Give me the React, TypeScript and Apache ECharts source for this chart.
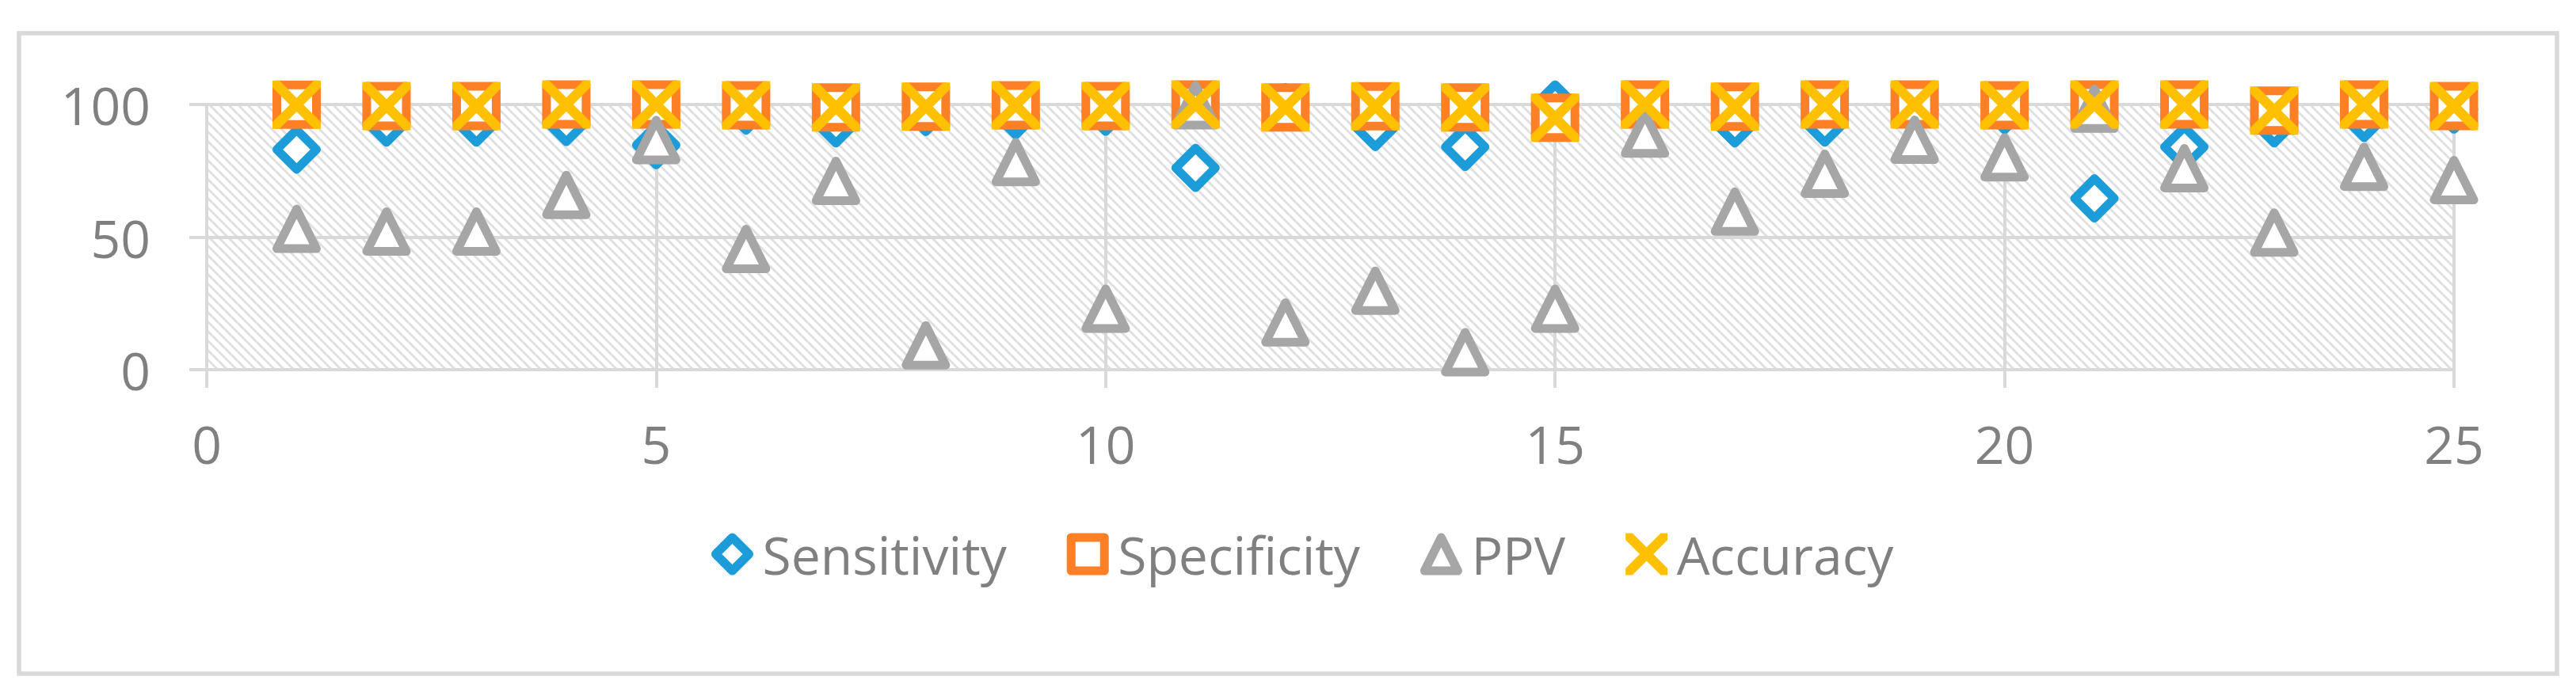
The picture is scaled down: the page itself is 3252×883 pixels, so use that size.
import React, { useEffect, useRef } from "react";
import * as echarts from "echarts";

// ---- data ----
const samples = [1, 2, 3, 4, 5, 6, 7, 8, 9, 10, 11, 12, 13, 14, 15, 16, 17, 18, 19, 20, 21, 22, 23, 24, 25];
const sensitivity = [83, 93.2, 93.2, 93.4, 84.7, 97.7, 92.9, 97.2, 95.9, 97.3, 76.1, 99, 91.5, 84, 100, 97, 92.9, 93.2, 98, 97.9, 64.6, 84, 92.9, 94.9, 98.1];
const specificity = [99.9, 99.4, 99.4, 100, 100, 99.7, 98.9, 99.2, 99.7, 99.4, 100, 98.9, 99.3, 98.9, 95, 100, 99.2, 100, 100, 99.7, 100, 100, 97.7, 100, 99.4];
const ppv = [53.1, 52.1, 52.1, 65.9, 86.6, 45.5, 71.2, 9.2, 78.3, 23, 99.7, 17.8, 29.8, 6.6, 23, 89, 59.6, 73.9, 86.7, 80.1, 98.4, 76, 51.7, 76.5, 71.5];
const accuracy = [99.9, 99.4, 99.4, 100, 100, 99.7, 98.9, 99.2, 99.7, 99.4, 100, 98.9, 99.3, 98.9, 95, 100, 99.2, 100, 100, 99.7, 100, 100, 97.7, 100, 99.4];
const seriesNames = ["Sensitivity", "Specificity", "PPV", "Accuracy"];
const xRange = [0, 25];
const xStep = 5;
const yRange = [0, 100];
const yStep = 50;

const FONT = "'Open Sans', 'Noto Sans', sans-serif";
const TEXT = "#808080";
const GRID = "#d9d9d9";
const X_PATH =
  "path://M0,0 L2,0 L50,48 L98,0 L100,0 L100,2 L52,50 L100,98 L100,100 L98,100 L50,52 L2,100 L0,100 L0,98 L48,50 L0,2 Z";

function makeHatch() {
  const P = 12;
  const cv = document.createElement("canvas");
  cv.width = P;
  cv.height = P;
  const ctx = cv.getContext("2d")!;
  ctx.fillStyle = "#ffffff";
  ctx.fillRect(0, 0, P, P);
  ctx.strokeStyle = "#e0e0e0";
  ctx.lineWidth = 3;
  for (let k = -1; k <= 1; k++) {
    ctx.beginPath();
    ctx.moveTo(k * P - 3, -3);
    ctx.lineTo(k * P + P + 3, P + 3);
    ctx.stroke();
  }
  return { image: cv, repeat: "repeat", imageWidth: P, imageHeight: P };
}

export default function App() {
  const ref = useRef<HTMLDivElement>(null);

  useEffect(() => {
    const el = ref.current;
    if (!el) return;
    const chart = echarts.init(el, null, { renderer: "svg" });

    const axisLineStyle = { color: GRID, width: 4 };
    const labelStyle = { fontSize: 66, lineHeight: 66, color: TEXT, fontFamily: FONT };

    const base = {
      type: "scatter",
      symbolSize: 50,
      clip: false,
      emphasis: { disabled: true },
    };

    const option: any = {
      animation: false,
      backgroundColor: "#ffffff",
      textStyle: { fontFamily: FONT },
      grid: {
        left: 261,
        top: 132,
        width: 2837,
        height: 335,
        show: true,
        borderWidth: 0,
        backgroundColor: makeHatch(),
      },
      xAxis: {
        type: "value",
        min: xRange[0],
        max: xRange[1],
        interval: xStep,
        axisLine: { show: true, onZero: true, lineStyle: axisLineStyle },
        axisTick: { show: true, length: 23, lineStyle: axisLineStyle },
        splitLine: { show: true, lineStyle: axisLineStyle },
        axisLabel: { margin: 60, ...labelStyle },
      },
      yAxis: {
        type: "value",
        min: yRange[0],
        max: yRange[1],
        interval: yStep,
        axisLine: { show: true, lineStyle: axisLineStyle },
        axisTick: { show: true, length: 22, lineStyle: axisLineStyle },
        splitLine: { show: true, lineStyle: axisLineStyle },
        axisLabel: { margin: 71, ...labelStyle },
      },
      legend: {
        left: 898,
        top: 667,
        padding: 0,
        itemWidth: 42,
        itemHeight: 42,
        itemGap: 76,
        selectedMode: false,
        data: seriesNames,
        itemStyle: { borderWidth: 11, opacity: 1 },
        textStyle: { ...labelStyle, padding: [0, 0, 0, 12] },
      },
      graphic: [
        {
          type: "rect",
          silent: true,
          z: 100,
          shape: { x: 24, y: 42, width: 3204, height: 809 },
          style: { fill: "none", stroke: GRID, lineWidth: 5.5 },
        },
      ],
      series: [
        {
          ...base,
          name: seriesNames[0],
          symbol: "diamond",
          itemStyle: { color: "#ffffff", borderColor: "#1c9cd8", borderWidth: 11, borderJoin: "round", opacity: 1 },
          data: samples.map((x, i) => [x, sensitivity[i]]),
        },
        {
          ...base,
          name: seriesNames[1],
          symbol: "rect",
          itemStyle: { color: "#ffffff", borderColor: "#fd8027", borderWidth: 11, borderJoin: "round", opacity: 1 },
          data: samples.map((x, i) => [x, specificity[i]]),
        },
        {
          ...base,
          name: seriesNames[2],
          symbol: "triangle",
          itemStyle: { color: "#ffffff", borderColor: "#a6a6a6", borderWidth: 11, borderJoin: "round", opacity: 1 },
          data: samples.map((x, i) => [x, ppv[i]]),
        },
        {
          ...base,
          name: seriesNames[3],
          symbol: X_PATH,
          itemStyle: { color: "#ffc000", borderColor: "#ffc000", borderWidth: 11, borderJoin: "miter", opacity: 1 },
          data: samples.map((x, i) => [x, accuracy[i]]),
        },
      ],
    };

    chart.setOption(option);
    return () => {
      chart.dispose();
    };
  }, []);

  return (
    <div
      ref={ref}
      style={{ position: "absolute", left: 0, top: 0, width: 3252, height: 883, background: "#ffffff" }}
    />
  );
}
